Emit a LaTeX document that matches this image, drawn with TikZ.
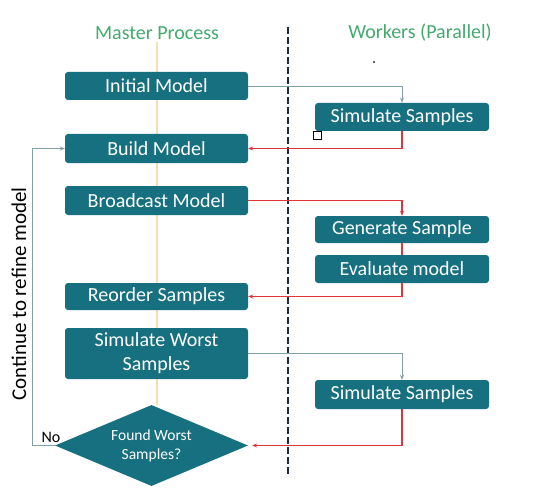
\documentclass[tikz,border=0pt]{standalone}
\usepackage{fontspec}
\setmainfont{Carlito}
\usetikzlibrary{shapes.geometric,arrows.meta}
\definecolor{boxteal}{RGB}{22,112,128}
\definecolor{headgreen}{RGB}{68,170,110}
\definecolor{flowred}{RGB}{222,52,60}
\definecolor{flowgray}{RGB}{130,160,168}
\definecolor{laneline}{RGB}{30,40,66}
\definecolor{axisline}{RGB}{246,222,178}
\tikzset{
  procbox/.style={fill=boxteal, rounded corners=3pt, text=white, font=\fontsize{20}{24}\selectfont,
    inner sep=0pt, align=center},
  leftbox/.style={procbox, minimum width=183pt},
  rightbox/.style={procbox, minimum width=174pt},
  header/.style={text=headgreen, font=\fontsize{20}{24}\selectfont},
  redflow/.style={draw=flowred, line width=1.4pt, -{Stealth[length=5pt,width=4pt]}},
  grayflow/.style={draw=flowgray, line width=0.9pt, -{Stealth[length=5pt,width=4pt]}},
}
\begin{document}
\begin{tikzpicture}[x=1pt,y=-1pt]
\useasboundingbox[fill=white] (0,0) rectangle (545,497);

% column guides
\draw[axisline, line width=1.5pt] (157,42) -- (157,405);
\draw[laneline, line width=2.6pt, dash pattern=on 7pt off 3pt] (288,27) -- (288,475);

% headers
\node[header] (hmaster) at (157,33) {Master Process};
\node[header] (hworker) at (420,33) {Workers (Parallel)};

% master column
\node[leftbox, minimum height=28pt] (init) at (156.5,86) {Initial Model};
\node[leftbox, minimum height=29pt] (build) at (156.5,148.5) {Build Model};
\node[leftbox, minimum height=29pt] (bcast) at (156.5,200.5) {Broadcast Model};
\node[leftbox, minimum height=27pt] (reorder) at (156.5,296.5) {Reorder Samples};
\node[leftbox, minimum height=51pt, font=\fontsize{20}{24}\selectfont] (worst) at (156.5,353.5) {Simulate Worst\\Samples};
\node[diamond, fill=boxteal, text=white, inner sep=0pt, minimum width=193pt, minimum height=81pt,
      aspect=2.4, align=center, font=\fontsize{15.5}{19}\selectfont] (found) at (151.5,445.5)
      {Found Worst\\Samples?};

% worker column
\node[rightbox, minimum height=28pt] (sim1) at (402,117) {Simulate Samples};
\node[rightbox, minimum height=27pt] (gen) at (402,229.5) {Generate Sample};
\node[rightbox, minimum height=28pt] (eval) at (402,269) {Evaluate model};
\node[rightbox, minimum height=29pt] (sim2) at (402,394.5) {Simulate Samples};

% flows
\draw[grayflow] (init.east) -| (sim1.north);
\draw[redflow] (sim1.south) |- (build.east);
\draw[redflow] (bcast.east) -| (gen.north);
\draw[draw=flowred, line width=1.4pt] (gen.south) -- (eval.north);
\draw[redflow] (eval.south) |- (reorder.east);
\draw[grayflow] (worst.east) -| (sim2.north);
\draw[redflow] (sim2.south) |- ([xshift=4pt]found.east);

% refinement loop
\coordinate (loopcorner) at (32,445.5);
\draw[grayflow] (found.west) -- (loopcorner) |- (build.west);
\node[font=\fontsize{16}{18}\selectfont] (nolabel) at (51,437) {No};
\node[rotate=90, font=\fontsize{21}{24}\selectfont] (loopnote) at (19,294) {Continue to refine model};

% small marks
\draw[black, line width=0.9pt, fill=white] (313.5,131.5) rectangle (321.5,139.5);
\fill[black!80] (374,62) circle (1.1pt);
\end{tikzpicture}
\end{document}
